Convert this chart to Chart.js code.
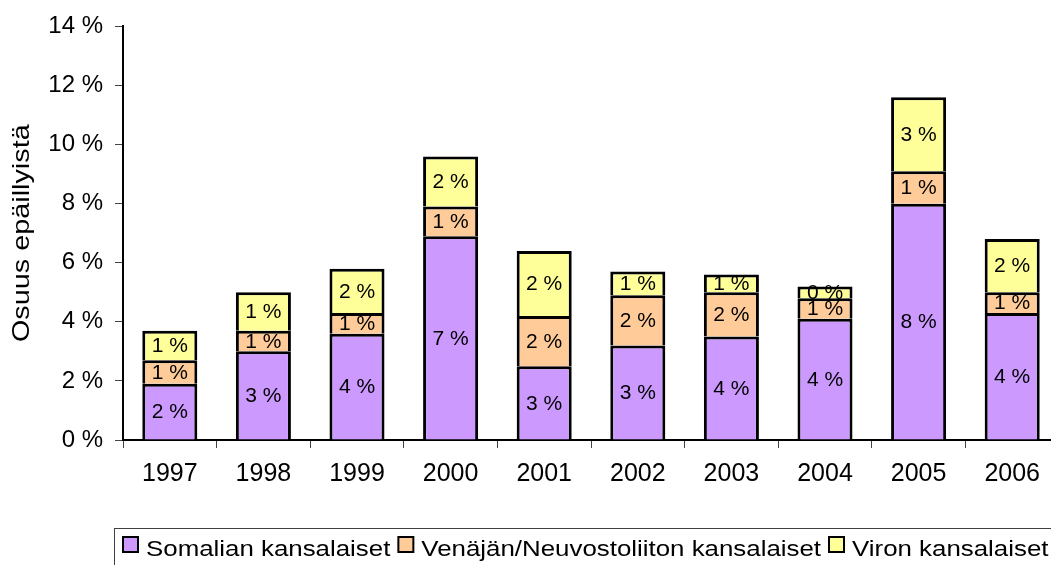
<!DOCTYPE html>
<html>
<head>
<meta charset="utf-8">
<script src="https://cdn.jsdelivr.net/npm/chart.js@4.4.0/dist/chart.umd.min.js"></script>
<style>
html,body{margin:0;padding:0;background:#fff;overflow:hidden;width:1051px;height:565px;}
#wrap{position:absolute;left:0;top:0;width:1075px;height:565px;}
</style>
</head>
<body>
<div id="wrap"><canvas id="c" width="1075" height="565"></canvas></div>
<script>
const categories = ['1997','1998','1999','2000','2001','2002','2003','2004','2005','2006'];
const seriesNames = ['Somalian kansalaiset','Venäjän/Neuvostoliiton kansalaiset','Viron kansalaiset'];
const somali = [1.9, 3.0, 3.6, 6.9, 2.5, 3.2, 3.5, 4.1, 8.0, 4.3];
const venaja = [0.8, 0.7, 0.7, 1.0, 1.7, 1.7, 1.5, 0.7, 1.1, 0.7];
const viro   = [1.0, 1.3, 1.5, 1.7, 2.2, 0.8, 0.6, 0.4, 2.5, 1.8];
const yTicks = [0, 2, 4, 6, 8, 10, 12, 14];
const yTitle = 'Osuus epäillyistä';
const colors = ['#CC99FF', '#FFCC99', '#FFFF99'];

const FONT = '"Liberation Sans", Arial, sans-serif';

const labelPlugin = {
  id: 'segLabels',
  afterDatasetsDraw(chart) {
    const ctx = chart.ctx;
    ctx.save();
    ctx.font = '21px ' + FONT;
    ctx.fillStyle = '#000';
    ctx.textAlign = 'center';
    ctx.textBaseline = 'middle';
    chart.data.datasets.forEach((ds, di) => {
      const meta = chart.getDatasetMeta(di);
      meta.data.forEach((bar, i) => {
        const v = ds.data[i];
        const p = bar.getProps(['x','y','base'], true);
        const cy = (p.y + p.base) / 2;
        ctx.fillText(Math.round(v) + ' %', p.x, cy + 1);
      });
    });
    ctx.restore();
  }
};

const decorPlugin = {
  id: 'decor',
  afterDraw(chart) {
    const ctx = chart.ctx;
    const area = chart.chartArea;
    ctx.save();
    // y-axis title
    ctx.font = '24px ' + FONT;
    ctx.fillStyle = '#000';
    ctx.textAlign = 'center';
    ctx.textBaseline = 'middle';
    ctx.translate(22, (area.top + area.bottom) / 2);
    ctx.rotate(-Math.PI / 2);
    ctx.scale(1.2, 1);
    ctx.fillText(yTitle, 0, 0);
    ctx.restore();

    // legend
    ctx.save();
    ctx.strokeStyle = '#404040';
    ctx.lineWidth = 1;
    ctx.strokeRect(114.5, 528.5, 1200, 100);
    ctx.font = '22px ' + FONT;
    const w = seriesNames.map(s => ctx.measureText(s).width);
    const startText = 146, lastText = 852, sq = 15, sqGap = 8, itemGap = 8;
    const sx = (lastText - startText - 2 * (itemGap + sq + sqGap)) / (w[0] + w[1]);
    let tx = startText;
    seriesNames.forEach((name, i) => {
      const sqx = tx - sqGap - sq;
      ctx.fillStyle = colors[i];
      ctx.fillRect(sqx, 537, sq, sq);
      ctx.strokeStyle = '#000';
      ctx.lineWidth = 2;
      ctx.strokeRect(sqx, 537, sq, sq);
      ctx.save();
      ctx.translate(tx, 556);
      ctx.scale(sx, 1);
      ctx.fillStyle = '#000';
      ctx.textBaseline = 'alphabetic';
      ctx.textAlign = 'left';
      ctx.fillText(name, 0, 0);
      ctx.restore();
      tx += w[i] * sx + itemGap + sq + sqGap;
    });
    ctx.restore();
  }
};

const data = {
  labels: categories,
  datasets: [somali, venaja, viro].map((d, i) => ({
    label: seriesNames[i],
    data: d,
    backgroundColor: colors[i],
    borderColor: '#000',
    borderWidth: 3,
    borderSkipped: 'start',
    inflateAmount: 0,
    barPercentage: 0.588,
    categoryPercentage: 1.0
  }))
};

new Chart(document.getElementById('c'), {
  type: 'bar',
  data,
  options: {
    responsive: false,
    animation: false,
    devicePixelRatio: 1,
    layout: { padding: { left: 0, top: 19, right: 16, bottom: 0 } },
    plugins: { legend: { display: false }, tooltip: { enabled: false } },
    scales: {
      x: {
        stacked: true,
        grid: { offset: true, drawOnChartArea: false, drawTicks: true, tickLength: 8, color: '#444', lineWidth: 1 },
        border: { display: true, color: '#000', width: 2 },
        ticks: { color: '#000', font: { family: FONT, size: 25 }, padding: 11, maxRotation: 0, autoSkip: false },
        afterFit(scale) { scale.height = 125; }
      },
      y: {
        stacked: true,
        min: 0, max: 14,
        afterBuildTicks(scale) { scale.ticks = yTicks.map(v => ({ value: v })); },
        grid: { drawOnChartArea: false, drawTicks: true, tickLength: 8, color: '#444', lineWidth: 1 },
        border: { display: true, color: '#000', width: 2 },
        ticks: { color: '#000', font: { family: FONT, size: 24 }, padding: 12, callback: v => v + ' %' },
        afterFit(scale) { scale.width = 123; }
      }
    }
  },
  plugins: [labelPlugin, decorPlugin]
});
</script>
</body>
</html>
